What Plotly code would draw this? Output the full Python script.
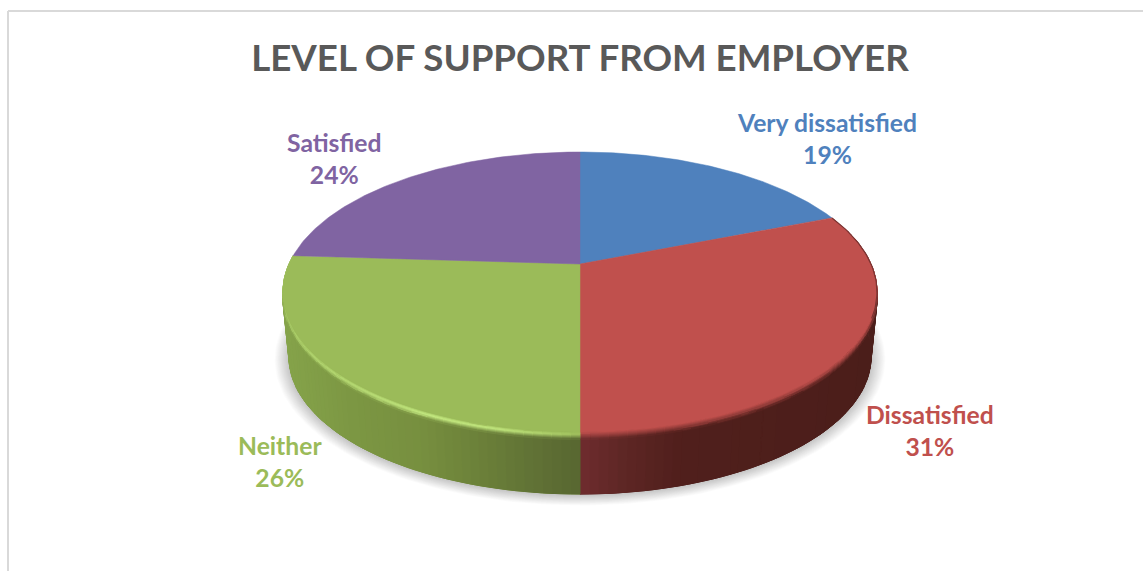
import numpy as np
import plotly.graph_objects as go

# Survey results
categories = ["Very dissatisfied", "Dissatisfied", "Neither", "Satisfied"]
values = [19, 31, 26, 24]
chart_title = "LEVEL OF SUPPORT FROM EMPLOYER"

FACE = ["#4f81bd", "#c0504d", "#9bbb59", "#8064a2"]
LABEL = ["#4f81bd", "#c0504d", "#9bbb59", "#8064a2"]
LABEL_AT = [(827, 138), (930, 430), (280, 461), (334, 158)]

# Perspective disc: centre, radii, foreshortening
CX, CY, R, K, P = 580.0, 264.0, 291.0, 134.4, 0.2
BOTTOM_Y, BOTTOM_SCALE = 329.4, 0.98
BEVEL = 7.5


def top_rim(t, dy=0.0):
    w = 1 + P * np.cos(t)
    return CX + R * np.sin(t) / w, CY - K * np.cos(t) / w + dy


def bottom_rim(t, grow=0.0):
    w = 1 + P * np.cos(t)
    return (CX + (R * BOTTOM_SCALE + grow) * np.sin(t) / w,
            BOTTOM_Y - (K * BOTTOM_SCALE + grow * 0.6) * np.cos(t) / w)


def rgb(h):
    return np.array([int(h[i:i + 2], 16) for i in (1, 3, 5)], float)


def hexof(c):
    c = np.clip(np.round(np.asarray(c)), 0, 255).astype(int)
    return "#%02x%02x%02x" % tuple(c)


def ramp(x, stops):
    xs = [s[0] for s in stops]
    cols = np.array([rgb(s[1]) for s in stops])
    return np.array([np.interp(x, xs, cols[:, i]) for i in range(3)])


SIDE_STOPS = {
    1: [(580, "#6f2c2e"), (620, "#5f2725"), (680, "#501f1c"), (880, "#4b1e1a")],
    2: [(283, "#85a34a"), (350, "#7c9743"), (420, "#778f3f"), (480, "#6b8039"),
        (540, "#5f7035"), (580, "#586731")],
}
GREEN_GLOW = [(283, .35), (300, .5), (350, .7), (430, 1.0), (500, .9), (560, .35), (580, .1)]
GLOW = rgb("#c8ee84")


def bevel_colour(i, x, u):
    side = ramp(x, SIDE_STOPS[i])
    face = rgb(FACE[i])
    if i == 1:
        return face + (side - face) * u ** 1.2
    h = np.interp(x, [s[0] for s in GREEN_GLOW], [s[1] for s in GREEN_GLOW])
    peak = face + (GLOW - face) * h
    if u < 0.4:
        return face + (peak - face) * (u / 0.4)
    return peak + (side - peak) * ((u - 0.4) / 0.6)


class Layer:
    """Collects polygons by colour so each colour becomes one filled trace."""

    def __init__(self):
        self.polys = {}

    def add(self, colour, x, y):
        px, py = self.polys.setdefault(colour, ([], []))
        px += list(x) + [x[0], None]
        py += list(y) + [y[0], None]

    def traces(self):
        return [go.Scatter(x=px, y=py, mode="lines", fill="toself", fillcolor=c,
                           line=dict(color=c, width=1), hoverinfo="skip",
                           showlegend=False)
                for c, (px, py) in self.polys.items()]


shares = np.array(values, float) / sum(values)
edges = np.concatenate([[0], np.cumsum(shares)]) * 2 * np.pi

fig = go.Figure()

# Soft shadow under the disc
full = np.linspace(0, 2 * np.pi, 241)
for grow in range(14, 0, -1):
    sx, sy = bottom_rim(full, grow)
    fig.add_trace(go.Scatter(x=sx, y=sy + 1, mode="lines", fill="toself",
                             fillcolor="rgba(0,0,0,0.016)", line=dict(width=0),
                             hoverinfo="skip", showlegend=False))

# Outer wall and bevel of the two slices facing the viewer
under_layer, side_layer, bevel_layer = Layer(), Layer(), Layer()
for i in (1, 2):
    a, b = max(edges[i], np.radians(75)), min(edges[i + 1], np.radians(285))
    steps = np.append(np.arange(a, b, np.radians(1.5)), b)
    # Solid underlay keeps the seams between gradient strips from showing
    ux, uy = top_rim(steps)
    lx, ly = bottom_rim(steps[::-1])
    under_layer.add(hexof(ramp(np.mean(ux), SIDE_STOPS[i])), np.r_[ux, lx], np.r_[uy, ly])
    for t0, t1 in zip(steps[:-1], steps[1:]):
        x0, y0 = top_rim(t0, BEVEL)
        x1, y1 = top_rim(t1, BEVEL)
        x2, y2 = bottom_rim(t1)
        x3, y3 = bottom_rim(t0)
        side_layer.add(hexof(ramp((x0 + x1) / 2, SIDE_STOPS[i])),
                       [x0, x1, x2, x3], [y0, y1, y2, y3])
        for u0 in np.linspace(0, 1, 8, endpoint=False):
            u1 = u0 + 1 / 8
            xa, ya = top_rim(t0, BEVEL * u0)
            xb, yb = top_rim(t1, BEVEL * u0)
            xc, yc = top_rim(t1, BEVEL * u1)
            xd, yd = top_rim(t0, BEVEL * u1)
            bevel_layer.add(hexof(bevel_colour(i, (xa + xb) / 2, u0 + 1 / 16)),
                            [xa, xb, xc, xd], [ya, yb, yc, yd])
fig.add_traces(under_layer.traces())
fig.add_traces(side_layer.traces())
fig.add_traces(bevel_layer.traces())

# Top face of the pie
for i, name in enumerate(categories):
    t = np.linspace(edges[i], edges[i + 1], 90)
    x, y = top_rim(t)
    fig.add_trace(go.Scatter(x=np.r_[CX, x, CX], y=np.r_[CY, y, CY], mode="lines",
                             fill="toself", fillcolor=FACE[i],
                             line=dict(color=FACE[i], width=0.5),
                             name=name, text=f"{name}: {values[i]}%", hoverinfo="text",
                             showlegend=False))

# Dark edge where the red slice turns over the rim at the back right
t = np.linspace(edges[1], np.radians(112), 40)
x, y = top_rim(t)
fig.add_trace(go.Scatter(x=x, y=y, mode="lines", line=dict(color="#7a3432", width=1.2),
                         hoverinfo="skip", showlegend=False))

for (lx, ly), c, name, v in zip(LABEL_AT, LABEL, categories, values):
    fig.add_annotation(x=lx, y=ly, text=f"<b>{name}<br>{v}%</b>", showarrow=False,
                       xanchor="center", yanchor="middle",
                       font=dict(family="Lato", size=24.7, color=c))

fig.update_layout(
    width=1143, height=571,
    margin=dict(l=0, r=0, t=0, b=0),
    paper_bgcolor="white", plot_bgcolor="white",
    showlegend=False,
    title=dict(text=f"<b>{chart_title}</b>", x=580 / 1143, y=1 - 58 / 571,
               xanchor="center", yanchor="middle", xref="paper", yref="paper",
               font=dict(family="Lato", size=36.7, color="#595959")),
    xaxis=dict(range=[0, 1143], visible=False, fixedrange=True),
    yaxis=dict(range=[571, 0], visible=False, fixedrange=True),
    shapes=[
        dict(type="line", x0=8, x1=8, y0=11, y1=571, line=dict(color="#d9d9d9", width=2)),
        dict(type="line", x0=8, x1=1143, y0=11, y1=11, line=dict(color="#d9d9d9", width=2)),
    ],
)

fig.write_html("out.html")
